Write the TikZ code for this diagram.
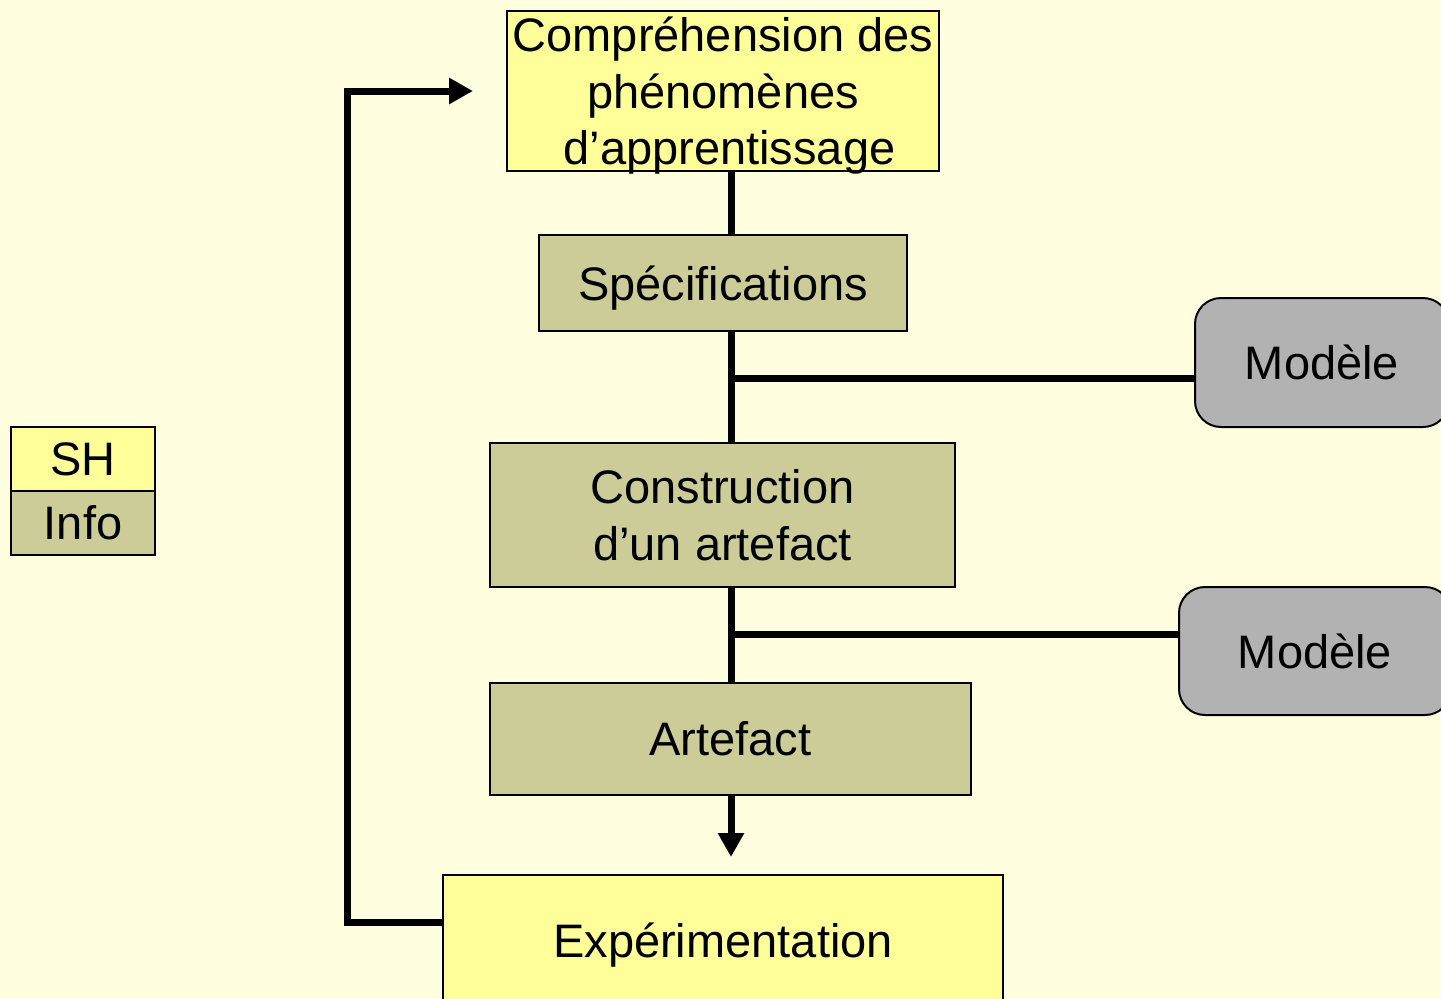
\documentclass[tikz,border=0pt]{standalone}
\usepackage{fontspec}
\setmainfont{Liberation Sans}
\usetikzlibrary{arrows.meta}
\definecolor{bgyellow}{HTML}{FFFFE0}
\definecolor{shyellow}{HTML}{FFFF99}
\definecolor{infoolive}{HTML}{CCCC99}
\definecolor{modelgray}{HTML}{B2B2B2}
\begin{document}
\begin{tikzpicture}[x=1pt,y=-1pt,
  box/.style={draw=black, line width=2pt, inner sep=0pt, align=center,
    font=\fontsize{47}{56.5}\selectfont},
  shbox/.style={box, fill=shyellow},
  infobox/.style={box, fill=infoolive},
  modelbox/.style={box, fill=modelgray, rounded corners=26pt},
  link/.style={line width=7pt, draw=black},
  arrowlink/.style={link, -{Triangle[length=24pt,width=25pt]}}]
\clip (0,0) rectangle (1441,999);
\fill[bgyellow] (0,0) rectangle (1441,999);
\useasboundingbox (0,0) rectangle (1441,999);

% spine of the main chain
\coordinate (sx) at (731,0);
\coordinate (j1) at (731,378);
\coordinate (j2) at (731,634);

% main chain
\node[shbox, minimum width=432pt, minimum height=160pt, text depth=0pt] (top) at (723,91)
  {Compréhension des\\phénomènes\\\ d’apprentissage};
\node[infobox, minimum width=368pt, minimum height=96pt, text depth=0pt] (spec) at (723,283)
  {Spécifications};
\node[infobox, minimum width=465pt, minimum height=144pt] (cons) at (722.5,515)
  {Construction\\d’un artefact};
\node[infobox, minimum width=481pt, minimum height=112pt] (art) at (730.5,739)
  {Artefact};
\node[shbox, minimum width=560pt, minimum height=130pt, text depth=0pt] (exp) at (723,940)
  {Expérimentation};

% models
\node[modelbox, minimum width=254pt, minimum height=129pt, text depth=-5pt] (m1) at (1322,362.5)
  {Modèle};
\node[modelbox, minimum width=272pt, minimum height=128pt] (m2) at (1315,651)
  {Modèle};

% legend
\node[shbox, minimum width=144pt, minimum height=64pt] (sh) at (83,459) {SH};
\node[infobox, minimum width=144pt, minimum height=64pt] (info) at (83,523) {Info};

% connectors
\draw[link] (top.south -| sx) -- (spec.north -| sx);
\draw[link] (spec.south -| sx) -- (cons.north -| sx);
\draw[link] (cons.south -| sx) -- (art.north -| sx);
\draw[link] (j1) -- (j1 -| m1.west);
\draw[link] (j2) -- (j2 -| m2.west);
\draw[arrowlink] (art.south -| sx) -- ([yshift=17pt]exp.north -| sx);
\coordinate (fb) at (347,922);
\draw[arrowlink] (exp.west |- fb) -- (fb) |- ([xshift=-33pt]top.west);
\end{tikzpicture}
\end{document}
